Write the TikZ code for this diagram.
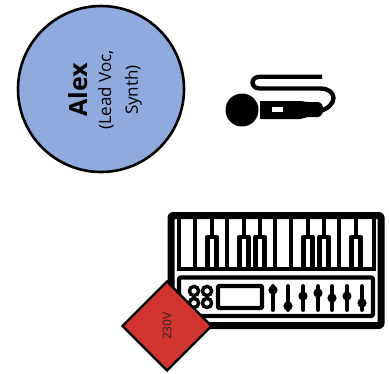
\documentclass[tikz,border=0pt]{standalone}
\usepackage{fontspec}
\setmainfont{Open Sans}
\usetikzlibrary{shapes.geometric}
\definecolor{memberblue}{HTML}{8FAADC}
\definecolor{plugred}{HTML}{D2352F}
\newcommand{\namefont}{\fontsize{25}{25}\bfseries\selectfont}
\newcommand{\rolefont}{\fontsize{17}{17}\selectfont}

\begin{document}
\begin{tikzpicture}[
    x=1pt, y=-1pt,
    member/.style={circle, draw=black, line width=2.6pt, fill=memberblue,
                   inner sep=0pt, minimum size=166pt},
    memberlabel/.style={align=center, inner sep=0pt, rotate=90},
    plug/.style={diamond, draw=black, line width=2.2pt, fill=plugred, aspect=1,
                 inner sep=0pt, minimum width=90pt, minimum height=90pt, rotate=90,
                 text=black!85, font=\fontsize{12}{14}\selectfont},
    gear/.style={draw=black, line width=4.3pt, line cap=round, line join=round},
    thin gear/.style={draw=black, line width=4.4pt},
    fader/.style={draw=black, line width=3.8pt, line cap=round},
]
\useasboundingbox (0,0) rectangle (389,373);

% Singer
\node[member] (alex) at (101,89) {};
\node[memberlabel] (alexlabel) at (105,90) {%
    \namefont Alex\\[10pt]
    \rolefont (Lead Voc,\\[10pt]
    \rolefont Synth)};

% Microphone
\node[circle, fill=black, inner sep=0pt, minimum size=33pt] (micball) at (242,110) {};
\fill[black] (260,101) -- (300,101) -- (308,102) -- (318,102)
    .. controls (325,103) and (325,116) .. (318,117) -- (308,117) -- (300,119) -- (260,119) -- cycle;
\fill[white] (272,107) rectangle (283,112);
\draw[gear, line cap=butt] (322,76.7) -- (260,76.7)
    .. controls (250,76.7) and (250,88.5) .. (260,88.5) -- (320,88.5)
    .. controls (338,88.5) and (338,106) .. (320,111);

% Keyboard case and keys
\draw[gear, line width=7pt, rounded corners=2pt] (171,328) -- (171,215.5) -- (381,215.5) -- (381,325.5) -- (171,325.5);
\draw[gear, line join=miter] (179,217) -- (179,269) -- (374,269) -- (374,217);
\foreach \x in {195,227,275,291,339}
    \draw[thin gear] (\x,217) -- (\x,268);
\foreach \x in {212,244,260,308,324,356} {
    \draw[thin gear] (\x,217) -- (\x,237);
    \draw[thin gear, line join=round] (\x-4.5,268) -- (\x-4.5,237) -- (\x+4.5,237) -- (\x+4.5,268);
}

% Control panel
\draw[gear, rounded corners=2pt] (179,277.5) rectangle (373,316);
\foreach \x in {194,207}
    \foreach \y in {291,303}
        \draw[thin gear, line width=3.4pt] (\x,\y) circle (4.6pt);
\draw[gear, rounded corners=1pt] (218,286) rectangle (262,308);
\foreach \x/\k in {273/290,288/306,303/296,318/293,332/298,347/296,362/303} {
    \draw[fader] (\x,286) -- (\x,310);
    \fill[black] (\x,\k) circle (4.6pt);
}

% Power
\node[plug] (mains) at (167,326) {230V};
\end{tikzpicture}
\end{document}
